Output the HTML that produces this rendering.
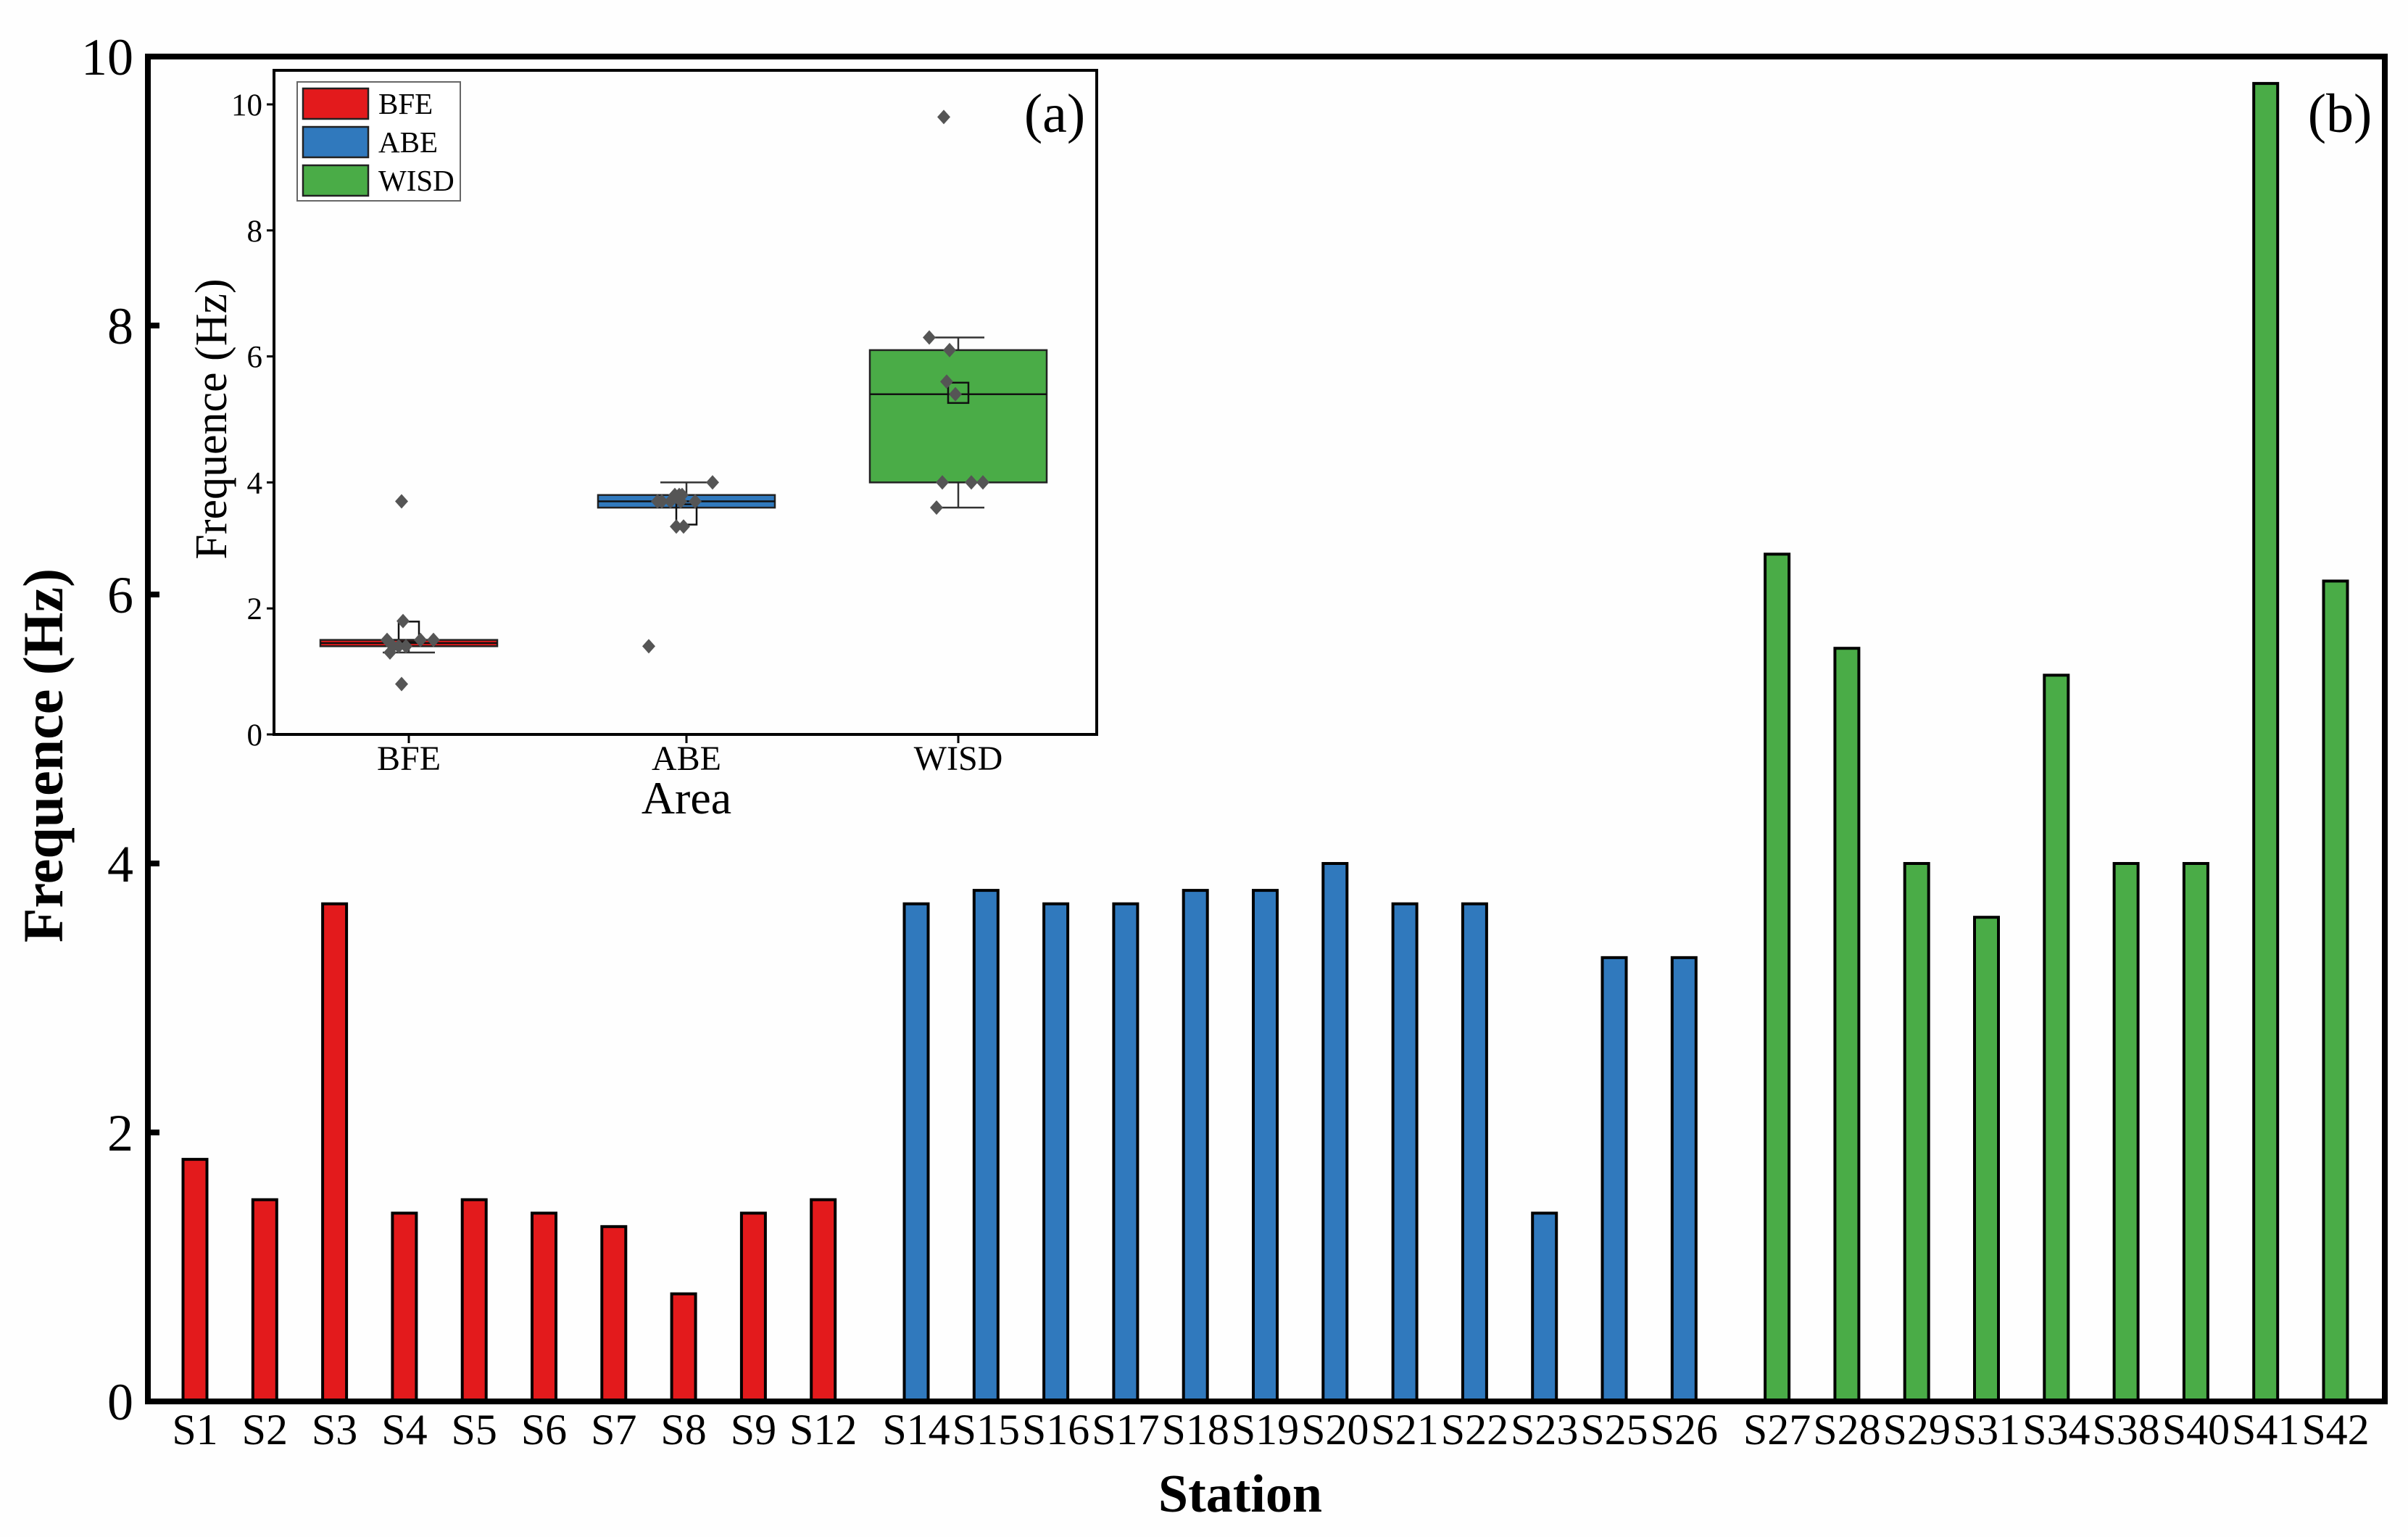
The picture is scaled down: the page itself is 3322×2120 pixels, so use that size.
<!DOCTYPE html>
<html><head><meta charset="utf-8"><style>
html,body{margin:0;padding:0;background:#fff;}
svg{display:block;font-family:"Liberation Serif","DejaVu Serif",serif;}
</style></head><body>
<svg id="chart" width="3322" height="2120" viewBox="0 0 3322 2120" xmlns="http://www.w3.org/2000/svg">
<rect width="3322" height="2120" fill="#fefefe"/>
<g id="main"></g>
<g id="inset"></g>
</svg>
<script>
const redStations=["S1","S2","S3","S4","S5","S6","S7","S8","S9","S12"];
const redValues=[1.8,1.5,3.7,1.4,1.5,1.4,1.3,0.8,1.4,1.5];
const blueStations=["S14","S15","S16","S17","S18","S19","S20","S21","S22","S23","S25","S26"];
const blueValues=[3.7,3.8,3.7,3.7,3.8,3.8,4.0,3.7,3.7,1.4,3.3,3.3];
const greenStations=["S27","S28","S29","S31","S34","S38","S40","S41","S42"];
const greenValues=[6.3,5.6,4.0,3.6,5.4,4.0,4.0,9.8,6.1];
const mainTicks=[0,2,4,6,8,10];
const insetTicks=[0,2,4,6,8,10];
const areas=["BFE","ABE","WISD"];

const NS="http://www.w3.org/2000/svg";
function mk(tag,attrs,parent,text){const e=document.createElementNS(NS,tag);for(const k in attrs)e.setAttribute(k,attrs[k]);if(text!==undefined)e.textContent=text;parent.appendChild(e);return e;}
const main=document.getElementById('main');
const inset=document.getElementById('inset');

const L=204,R=3290,T=78,B=1933;
const yMain=v=>B-(v/10)*(B-T);
const slot=96.3,gap=32;
function xMain(g,i){return 269+i*slot+g*gap+(g>=1?10*slot:0)+(g>=2?12*slot:0);}
const groups=[[redStations,redValues,"#e31a1c"],[blueStations,blueValues,"#3079bd"],[greenStations,greenValues,"#4aac47"]];
const bw=33;
groups.forEach((gr,g)=>{
  gr[0].forEach((s,i)=>{
    const cx=xMain(g,i),v=gr[1][i];
    const r=mk('rect',{x:cx-bw/2,y:yMain(v),width:bw,height:B-yMain(v),fill:gr[2],stroke:'#000','stroke-width':4},main);
    
    
    const t=mk('text',{x:cx,y:1992,'font-size':60,'text-anchor':'middle'},main,s);
    
    
  });
});
const frame=mk('rect',{x:L,y:T,width:R-L,height:B-T,fill:'none',stroke:'#000','stroke-width':8},main);


mainTicks.forEach(v=>{
  mk('line',{x1:L,x2:L+16,y1:yMain(v),y2:yMain(v),stroke:'#000','stroke-width':8},main);
  const t=mk('text',{x:184,y:yMain(v)+25,'font-size':72,'text-anchor':'end'},main,String(v));
  
  
});
let yt=mk('text',{x:0,y:0,'font-size':78,'font-weight':'bold','text-anchor':'middle',transform:'translate(86,1042) rotate(-90)'},main,'Frequence (Hz)');

let xt=mk('text',{x:1711,y:2085,'font-size':74,'font-weight':'bold','text-anchor':'middle'},main,'Station');

let lb=mk('text',{x:3228,y:182,'font-size':76,'text-anchor':'middle'},main,'(b)');


const iL=378,iR=1513,iT=97,iB=1013;
mk('rect',{x:iL,y:iT,width:iR-iL,height:iB-iT,fill:'#fefefe',stroke:'none'},inset);
const yIn=v=>iB-v*86.9;
const catX=[564,947,1322];
const colors=["#e31a1c","#3079bd","#4aac47"];
const boxW=244;
const jitter=[[-8,-30,-10,-22,16,-14,-26,-10,-4,34],[-34,-16,-40,-22,-10,-6,36,-8,12,-52,-14,-4],[-40,-16,18,-30,-4,34,-22,-20,-12]];
function quant(a,p){const s=[...a].sort((x,y)=>x-y);const pos=(s.length-1)*p;const lo=Math.floor(pos),hi=Math.ceil(pos);return s[lo]+(s[hi]-s[lo])*(pos-lo);}
[redValues,blueValues,greenValues].forEach((vals,k)=>{
  const cx=catX[k];
  const q1=quant(vals,0.25),q3=quant(vals,0.75),med=quant(vals,0.5);
  const iqr=q3-q1;
  const inl=vals.filter(v=>v>=q1-1.5*iqr&&v<=q3+1.5*iqr);
  const wlo=Math.min(...inl),whi=Math.max(...inl);
  const mean=vals.reduce((a,b)=>a+b,0)/vals.length;
  mk('line',{x1:cx,x2:cx,y1:yIn(whi),y2:yIn(wlo),stroke:'#333','stroke-width':2.5},inset);
  mk('line',{x1:cx-36,x2:cx+36,y1:yIn(whi),y2:yIn(whi),stroke:'#333','stroke-width':2.5},inset);
  mk('line',{x1:cx-36,x2:cx+36,y1:yIn(wlo),y2:yIn(wlo),stroke:'#333','stroke-width':2.5},inset);
  const b=mk('rect',{x:cx-boxW/2,y:yIn(q3),width:boxW,height:Math.max(yIn(q1)-yIn(q3),4),fill:colors[k],stroke:'#222','stroke-width':2.5},inset);
  
  
  mk('line',{x1:cx-boxW/2,x2:cx+boxW/2,y1:yIn(med),y2:yIn(med),stroke:'#111','stroke-width':2.5},inset);
  const m=mk('rect',{x:cx-14,y:yIn(mean)-14,width:28,height:28,fill:'none',stroke:'#111','stroke-width':2.5},inset);
  
  
  vals.forEach((v,i)=>{
    const px=cx+jitter[k][i],py=yIn(v);
    const d=mk('path',{d:`M${px} ${py-10}L${px+9} ${py}L${px} ${py+10}L${px-9} ${py}Z`,fill:'#555'},inset);
    
    
  });
  mk('line',{x1:cx,x2:cx,y1:iB,y2:iB+12,stroke:'#000','stroke-width':3},inset);
  const t=mk('text',{x:cx,y:1062,'font-size':48,'text-anchor':'middle'},inset,areas[k]);
  
  
});
const iframe=mk('rect',{x:iL,y:iT,width:iR-iL,height:iB-iT,fill:'none',stroke:'#000','stroke-width':4},inset);


insetTicks.forEach(v=>{
  mk('line',{x1:iL-10,x2:iL,y1:yIn(v),y2:yIn(v),stroke:'#000','stroke-width':3},inset);
  const t=mk('text',{x:362,y:yIn(v)+15,'font-size':43,'text-anchor':'end'},inset,String(v));
  
  
});
let iyt=mk('text',{x:0,y:0,'font-size':62,'text-anchor':'middle',transform:'translate(312,578) rotate(-90)'},inset,'Frequence (Hz)');

let ixt=mk('text',{x:947,y:1122,'font-size':64,'text-anchor':'middle'},inset,'Area');

let la=mk('text',{x:1455,y:182,'font-size':76,'text-anchor':'middle'},inset,'(a)');

const lg=mk('g',{},inset);


mk('rect',{x:410,y:113,width:225,height:164,fill:'#fff',stroke:'#666','stroke-width':2},lg);
areas.forEach((a,k)=>{
  const cy=143+k*53;
  const sw=mk('rect',{x:418,y:cy-21,width:90,height:42,fill:colors[k],stroke:'#222','stroke-width':2.5},lg);
  
  
  const t=mk('text',{x:522,y:cy+14,'font-size':41},lg,a);
  
  
});
</script>
</body></html>
